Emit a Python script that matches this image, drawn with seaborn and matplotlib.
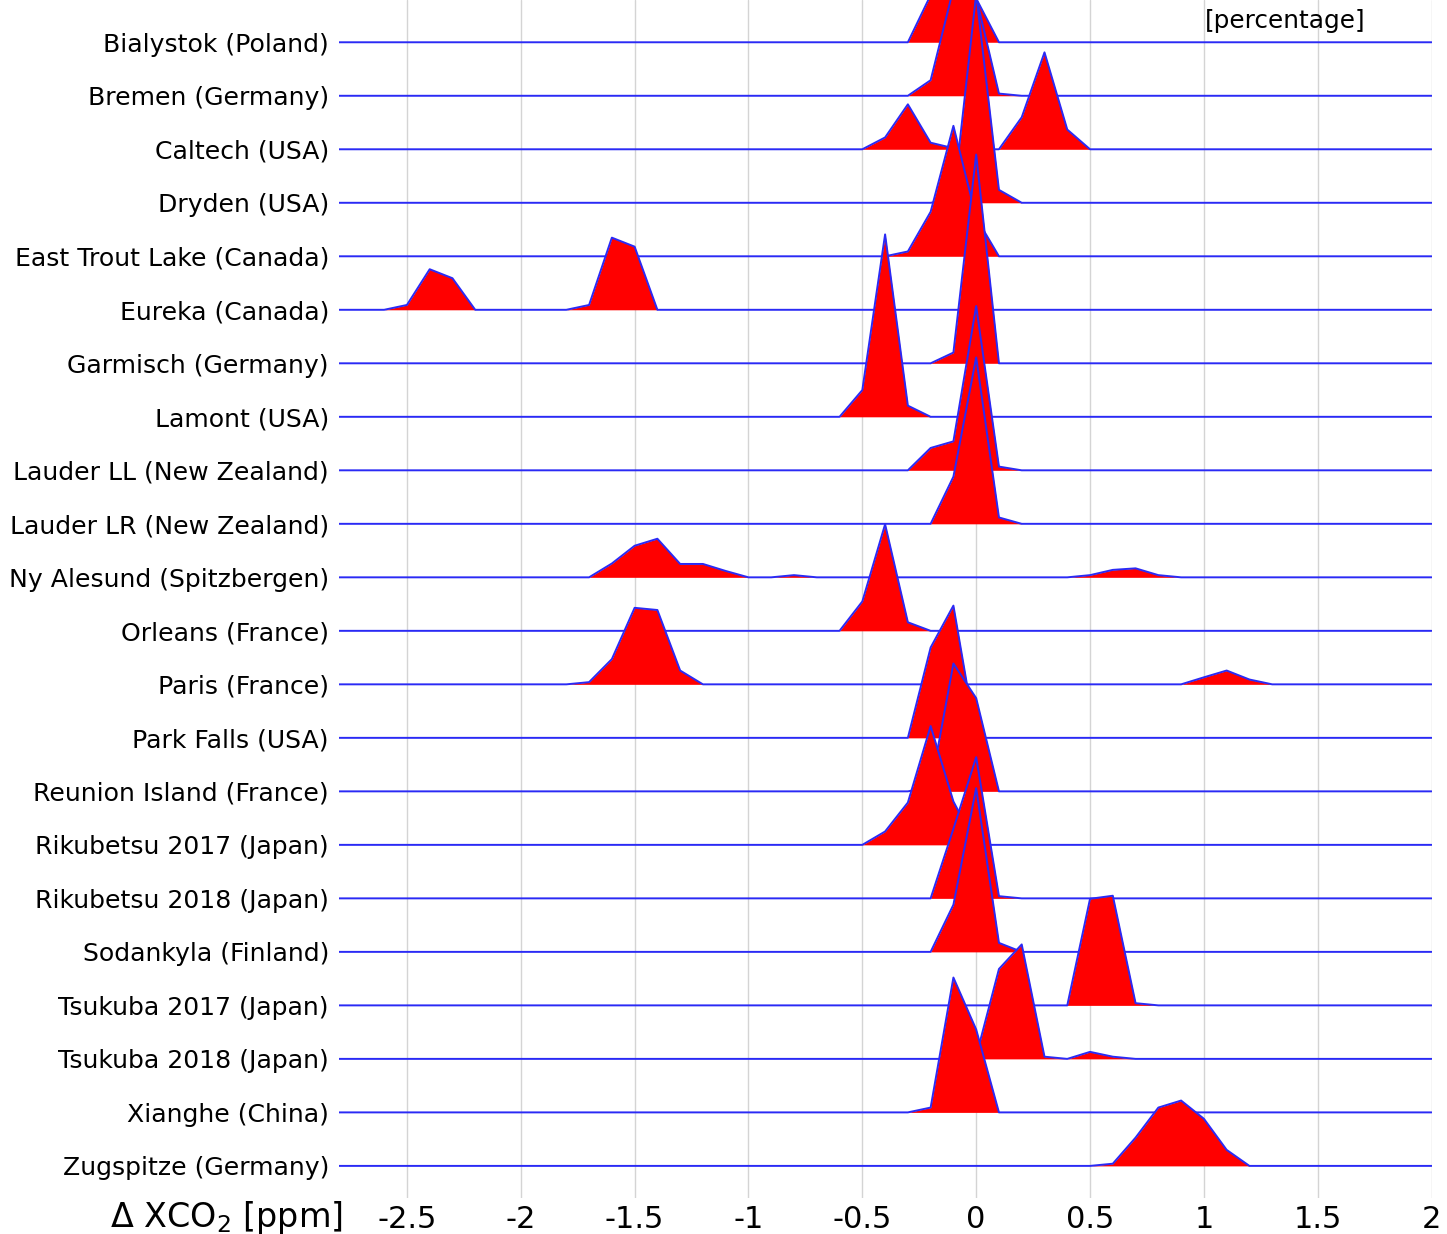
import numpy as np
import pandas as pd
import matplotlib
matplotlib.use("Agg")
import matplotlib.pyplot as plt
import seaborn as sns

# ---------------- data ----------------
SITES = [
    "Bialystok (Poland)", "Bremen (Germany)", "Caltech (USA)", "Dryden (USA)",
    "East Trout Lake (Canada)", "Eureka (Canada)", "Garmisch (Germany)",
    "Lamont (USA)", "Lauder LL (New Zealand)", "Lauder LR (New Zealand)",
    "Ny Alesund (Spitzbergen)", "Orleans (France)", "Paris (France)",
    "Park Falls (USA)", "Reunion Island (France)", "Rikubetsu 2017 (Japan)",
    "Rikubetsu 2018 (Japan)", "Sodankyla (Finland)", "Tsukuba 2017 (Japan)",
    "Tsukuba 2018 (Japan)", "Xianghe (China)", "Zugspitze (Germany)",
]

# histogram bin centres [ppm]
BINS = [-2.8, -2.7, -2.6, -2.5, -2.4, -2.3, -2.2, -2.1, -2.0, -1.9, -1.8,
        -1.7, -1.6, -1.5, -1.4, -1.3, -1.2, -1.1, -1.0, -0.9, -0.8, -0.7,
        -0.6, -0.5, -0.4, -0.3, -0.2, -0.1, 0.0, 0.1, 0.2, 0.3, 0.4, 0.5,
        0.6, 0.7, 0.8, 0.9, 1.0, 1.1, 1.2, 1.3, 1.4, 1.5, 1.6, 1.7, 1.8,
        1.9, 2.0]

# percentage per bin (bins not listed are 0 %)
bialystok = {-0.2: 21.5, -0.1: 58.6, 0.0: 20.0}
bremen = {-0.2: 7.1, -0.1: 48.8, 0.0: 44.9, 0.1: 1.0}
caltech = {-0.4: 5.4, -0.3: 20.5, -0.2: 3.0, -0.1: 0.5, 0.2: 14.6, 0.3: 44.2, 0.4: 9.0}
dryden = {-0.1: 1.7, 0.0: 95.2, 0.1: 5.9}
east_trout_lake = {-0.3: 2.2, -0.2: 20.3, -0.1: 59.5, 0.0: 17.6}
eureka = {-2.5: 2.2, -2.4: 18.5, -2.3: 14.4, -1.7: 2.2, -1.6: 32.9, -1.5: 28.8}
garmisch = {-0.1: 4.9, 0.0: 95.2}
lamont = {-0.5: 12.2, -0.4: 83.2, -0.3: 5.1}
lauder_ll = {-0.2: 10.2, -0.1: 13.2, 0.0: 74.9, 0.1: 1.7}
lauder_lr = {-0.1: 21.5, 0.0: 75.9, 0.1: 2.9}
ny_alesund = {-1.6: 6.3, -1.5: 14.4, -1.4: 17.6, -1.3: 6.1, -1.2: 6.1, -1.1: 2.9,
              -0.8: 1.0, 0.5: 1.0, 0.6: 3.4, 0.7: 4.1, 0.8: 1.0}
orleans = {-0.5: 13.4, -0.4: 48.6, -0.3: 3.9}
paris = {-1.7: 1.0, -1.6: 11.5, -1.5: 34.9, -1.4: 33.9, -1.3: 6.3,
         1.0: 3.2, 1.1: 6.3, 1.2: 2.2}
park_falls = {-0.2: 41.2, -0.1: 60.3}
reunion = {-0.2: 2.0, -0.1: 58.3, 0.0: 42.5}
rikubetsu_2017 = {-0.4: 6.1, -0.3: 19.3, -0.2: 54.2, -0.1: 19.8}
rikubetsu_2018 = {-0.1: 31.7, 0.0: 64.4, 0.1: 1.0}
sodankyla = {-0.1: 21.5, 0.0: 74.7, 0.1: 4.1}
tsukuba_2017 = {0.5: 48.6, 0.6: 50.0, 0.7: 1.0}
tsukuba_2018 = {0.0: 1.2, 0.1: 41.0, 0.2: 52.2, 0.3: 1.0, 0.5: 3.2, 0.6: 1.0}
xianghe = {-0.2: 2.2, -0.1: 61.5, 0.0: 37.8}
zugspitze = {0.6: 1.0, 0.7: 12.9, 0.8: 26.6, 0.9: 29.8, 1.0: 21.5, 1.1: 7.3}

HISTS = [bialystok, bremen, caltech, dryden, east_trout_lake, eureka, garmisch,
         lamont, lauder_ll, lauder_lr, ny_alesund, orleans, paris, park_falls,
         reunion, rikubetsu_2017, rikubetsu_2018, sodankyla, tsukuba_2017,
         tsukuba_2018, xianghe, zugspitze]

XTICKS = [-2.5, -2.0, -1.5, -1.0, -0.5, 0.0, 0.5, 1.0, 1.5, 2.0]
XTICKLABELS = ["-2.5", "-2", "-1.5", "-1", "-0.5", "0", "0.5", "1", "1.5", "2"]

# ---------------- style ----------------
sns.set_theme(style="whitegrid")
plt.rcParams["font.family"] = ["DejaVu Sans"]
plt.rcParams["axes.unicode_minus"] = False
plt.rcParams["text.color"] = "black"
plt.rcParams["xtick.color"] = "black"
plt.rcParams["ytick.color"] = "black"

ROW = 24.4          # vertical spacing between ridges, in percent units
EDGE = "#2a2af5"
FILL = "#ff0000"

W, H = 1447, 1234
fig = plt.figure(figsize=(W / 100, H / 100), dpi=100)
ax = fig.add_axes([338.6 / W, (H - 1198) / H, (1431.6 - 338.6) / W, 1198 / H])

x = np.array(BINS)
for i, (site, hist) in enumerate(zip(SITES, HISTS)):
    base = -i * ROW
    vals = np.array([hist.get(b, 0.0) for b in BINS])
    df = pd.DataFrame({"x": x, "y": base + vals})
    z = 10 + 2 * i
    ax.fill_between(x, base, base + vals, color=FILL, lw=0, zorder=z)
    sns.lineplot(data=df, x="x", y="y", ax=ax, color=EDGE, lw=1.4,
                 estimator=None, sort=False, zorder=z + 1)

ax.set_xlim(-2.8, 2.0)
ax.set_ylim(-21.6 * ROW, 0.79 * ROW)
ax.set_yticks([-i * ROW for i in range(len(SITES))])
ax.set_yticklabels(SITES, fontsize=18.1, color="black")
ax.set_xticks(XTICKS)
ax.set_xticklabels(XTICKLABELS, fontsize=22, color="black")
ax.tick_params(axis="y", length=0, pad=7, labelcolor="black")
ax.tick_params(axis="x", length=0, pad=5, labelcolor="black")
ax.set_xlabel("")
ax.set_ylabel("")
ax.grid(axis="y", visible=False)
ax.grid(axis="x", color="#d4d4d4", lw=1.0, zorder=0)
ax.set_axisbelow(True)
for s in ax.spines.values():
    s.set_visible(False)

fig.text(343 / W, 1 - 1217 / H, "Δ XCO$_2$ [ppm]", ha="right", va="center",
         fontsize=24, color="black")
fig.text(1285 / W, 1 - 21 / H, "[percentage]", ha="center", va="center",
         fontsize=17.8, color="black")

fig.savefig("out.png", dpi=100)
